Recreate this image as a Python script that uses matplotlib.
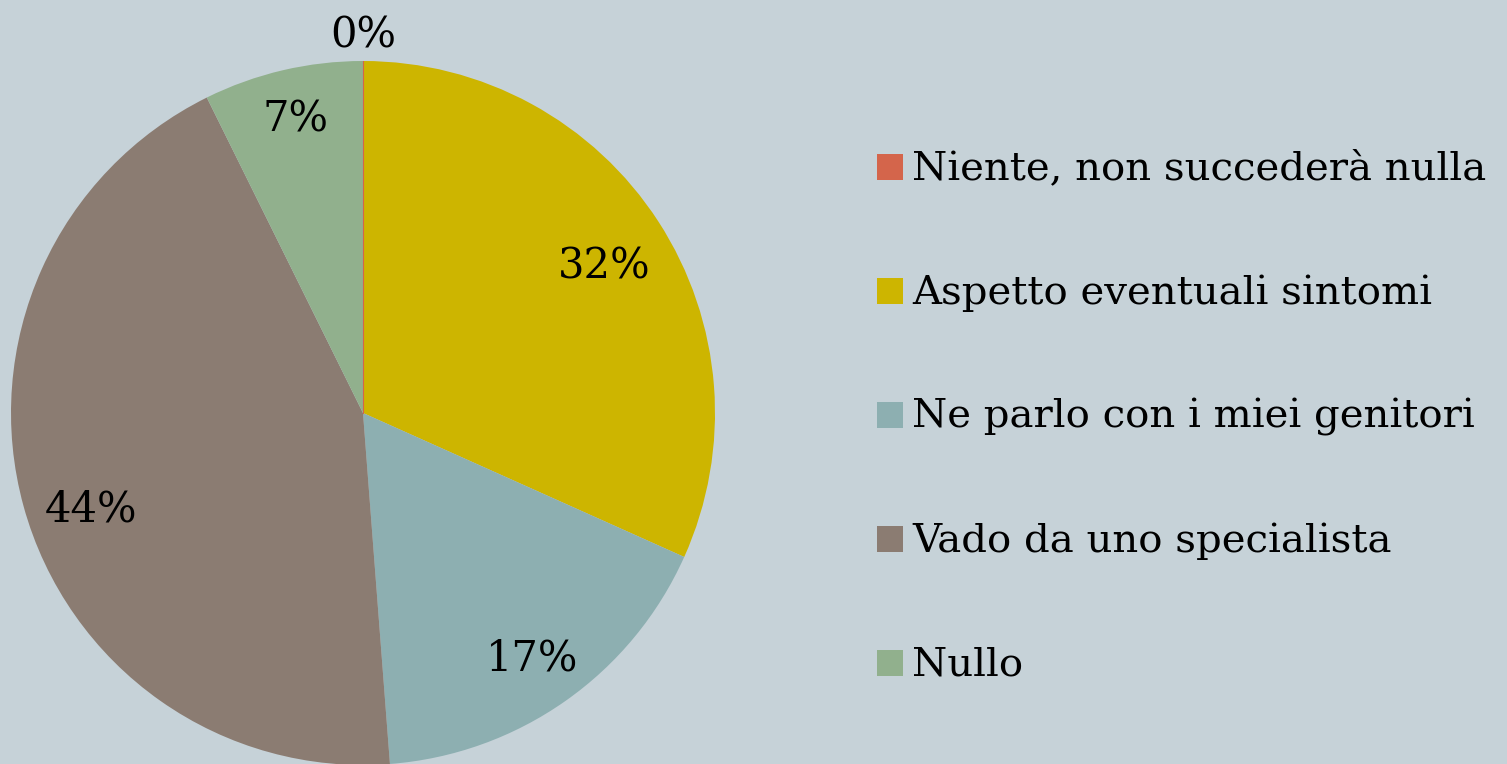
import matplotlib
matplotlib.use("Agg")
import matplotlib.pyplot as plt
from matplotlib.patches import Rectangle

labels = ["Niente, non succederà nulla", "Aspetto eventuali sintomi",
          "Ne parlo con i miei genitori", "Vado da uno specialista", "Nullo"]
counts = [0, 13, 7, 18, 3]
colors = ["#D4654B", "#CDB500", "#8DAFB1", "#8B7C72", "#91B08D"]
bg = "#C6D2D8"

# where the percentage labels sit, in pie units (radius = 1)
label_xy = [(0.0, 1.085), (0.685, 0.429), (0.480, -0.685),
            (-0.773, -0.261), (-0.193, 0.847)]

plt.rcParams["font.family"] = ["DejaVu Serif"]

W, H = 1507, 764
fig = plt.figure(figsize=(W / 100, H / 100), dpi=100, facecolor=bg)

# pie axes: centre (363, 413) px, radius 352 px
cx, cy, r = 363, 413, 352
ax = fig.add_axes([(cx - r) / W, (H - cy - r) / H, 2 * r / W, 2 * r / H])
ax.set_facecolor(bg)
ax.axis("off")

wedges, _ = ax.pie(counts, colors=colors, startangle=90, counterclock=False,
                   wedgeprops=dict(linewidth=0))
ax.set_xlim(-1, 1)
ax.set_ylim(-1, 1)

total = sum(counts)
for (x, y), c in zip(label_xy, counts):
    ax.text(x, y, f"{c / total:.0%}", ha="center", va="center_baseline",
            fontsize=30, color="black", clip_on=False)
# thin line for the empty slice
ax.plot([0, 0], [0, 1], color=colors[0], lw=0.8)

# legend, drawn by hand
for i, (lab, col) in enumerate(zip(labels, colors)):
    y = 167 + i * 124
    fig.add_artist(Rectangle((877 / W, (H - y - 13) / H), 26 / W, 26 / H,
                             transform=fig.transFigure, color=col, lw=0))
    fig.text(912 / W, (H - y + 2) / H, lab, ha="left", va="center_baseline",
             fontsize=29, color="black")

fig.savefig("out.png", dpi=100, facecolor=bg)
